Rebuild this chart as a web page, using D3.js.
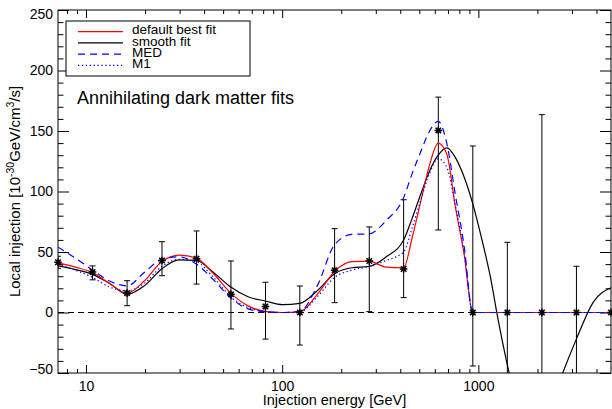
<!DOCTYPE html>
<html>
<head>
<meta charset="utf-8">
<script src="https://cdn.jsdelivr.net/npm/d3@7"></script>
<style>
  html, body { margin: 0; padding: 0; background: #fff; }
  svg { display: block; font-family: "Liberation Sans", Arial, Helvetica, sans-serif; }
</style>
</head>
<body>
<svg id="chart" width="612" height="409"></svg>
<script>
// Measured bins: injection energy (GeV), local injection and its error range
const binEnergy = [7.2, 10.8, 16.2, 24.4, 36.6, 54.8, 82.2, 123, 185, 278, 416, 625, 937, 1405, 2108, 3162, 4743];
const binValue  = [41.5, 33.5, 16, 43, 44.5, 15, 5, 0, 35, 42.5, 36, 150.5, 0, 0, 0, 0, 0];
const binUpper  = [46.5, 38.5, 26.3, 58.5, 67.4, 42.6, 25, 21.9, 69.3, 70.7, 93.2, 178, 137.6, 58, 163.5, 38.2, null];
const binLower  = [36.5, 27, 5.6, 30.4, 23.5, -13.6, -22, -26.9, 8.1, 0.7, 12.3, 68.2, -44.2, -60, -60, -60, null];

// Fit curves, sampled on a shared energy grid (GeV)
const fitEnergy = [7.2, 8.82, 10.8, 13.2, 16.2, 19.8, 24.3, 29.8, 36.5, 44.7, 54.7, 67.0, 82.0, 100.5, 123, 151,
                   185, 226, 277, 339, 416, 460, 509, 564, 624, 690, 764, 846, 936, 1036, 1146, 1268, 1404, 1553,
                   1719, 2106, 2579, 3159, 3869, 4738];
const fitDefault = [41, 37.5, 33, 24, 16, 26, 42, 47.5, 45, 32, 16, 5.5, 1, 0, 0.5, 15,
                    34, 42, 42.5, 37.5, 37, 62, 92, 122, 140, 131, 87, 48, 0, 0, 0, 0, 0, 0,
                    0, 0, 0, 0, 0, 0];
const fitSmooth  = [38.5, 35.5, 31.5, 24, 15, 22, 36, 43.5, 43, 33, 21, 13, 9.5, 6.5, 7.5, 18,
                    32, 37, 38, 46, 60, 78, 98, 117, 130, 136, 128, 112, 90, 62, 31, -8, -43, -72,
                    -92, -100, -58, -22, 9, 20.5];
const fitMED     = [54, 45, 35, 26, 22, 33, 44, 46, 40, 27, 12, 3, 0.5, 0, 1, 22,
                    56, 64.5, 65, 76, 95, 115, 133, 150, 158, 140, 97, 55, 0, 0, 0, 0, 0, 0,
                    0, 0, 0, 0, 0, 0];
const fitM1      = [40, 35, 29, 21, 18, 24, 38, 44, 42, 29, 13, 4, 1, 0, 0.5, 13,
                    29, 35, 38, 43, 50, 70, 93, 115, 127, 120, 88, 50, 0, 0, 0, 0, 0, 0,
                    0, 0, 0, 0, 0, 0];

const xMajorTicks = [10, 100, 1000];
const yMajorTicks = [-50, 0, 50, 100, 150, 200, 250];

const legendLabels = ["default best fit", "smooth fit", "MED", "M1"];

// ---- layout -------------------------------------------------------------
const plot = { left: 58, right: 611, top: 10, bottom: 373 };
const svg = d3.select("#chart");

const x = d3.scaleLog().domain([7.2, 4743]).range([plot.left, plot.right]);
const y = d3.scaleLinear().domain([-50, 250]).range([plot.bottom, plot.top]);

svg.append("defs").append("clipPath").attr("id", "plotClip")
  .append("rect")
  .attr("x", plot.left).attr("y", plot.top)
  .attr("width", plot.right - plot.left).attr("height", plot.bottom - plot.top);

// ---- axes ---------------------------------------------------------------
const xMinor = x.ticks().filter(v => !xMajorTicks.includes(v));
const yMinor = d3.range(-50, 251, 10).filter(v => !yMajorTicks.includes(v));

function styleAxis(g) {
  g.select(".domain").remove();
  g.selectAll("line").attr("stroke", "#000").attr("stroke-width", 1);
  g.selectAll("text").attr("fill", "#000").attr("font-size", 14)
    .attr("font-family", "'Liberation Sans', Arial, sans-serif");
}

// bottom
svg.append("g").attr("transform", `translate(0,${plot.bottom})`)
  .call(d3.axisBottom(x).tickValues(xMajorTicks).tickSizeInner(-8).tickSizeOuter(0)
        .tickPadding(8).tickFormat(d3.format("d")))
  .call(styleAxis);
svg.append("g").attr("transform", `translate(0,${plot.bottom})`)
  .call(d3.axisBottom(x).tickValues(xMinor).tickSizeInner(-4).tickSizeOuter(0).tickFormat(""))
  .call(styleAxis);
// top
svg.append("g").attr("transform", `translate(0,${plot.top})`)
  .call(d3.axisTop(x).tickValues(xMajorTicks).tickSizeInner(-8).tickSizeOuter(0).tickFormat(""))
  .call(styleAxis);
svg.append("g").attr("transform", `translate(0,${plot.top})`)
  .call(d3.axisTop(x).tickValues(xMinor).tickSizeInner(-4).tickSizeOuter(0).tickFormat(""))
  .call(styleAxis);
// left
const yAxisLeft = svg.append("g").attr("transform", `translate(${plot.left},0)`)
  .call(d3.axisLeft(y).tickValues(yMajorTicks).tickSizeInner(-11).tickSizeOuter(0)
        .tickPadding(5).tickFormat(d3.format("d")))
  .call(styleAxis);
// keep the end labels inside the frame height
yAxisLeft.selectAll(".tick text")
  .attr("dy", d => d === 250 ? "0.62em" : d === -50 ? "0.0em" : "0.32em");
svg.append("g").attr("transform", `translate(${plot.left},0)`)
  .call(d3.axisLeft(y).tickValues(yMinor).tickSizeInner(-5.5).tickSizeOuter(0).tickFormat(""))
  .call(styleAxis);
// right
svg.append("g").attr("transform", `translate(${plot.right},0)`)
  .call(d3.axisRight(y).tickValues(yMajorTicks).tickSizeInner(-11).tickSizeOuter(0).tickFormat(""))
  .call(styleAxis);
svg.append("g").attr("transform", `translate(${plot.right},0)`)
  .call(d3.axisRight(y).tickValues(yMinor).tickSizeInner(-5.5).tickSizeOuter(0).tickFormat(""))
  .call(styleAxis);

// frame
svg.append("rect")
  .attr("x", plot.left).attr("y", plot.top)
  .attr("width", plot.right - plot.left).attr("height", plot.bottom - plot.top)
  .attr("fill", "none").attr("stroke", "#000").attr("stroke-width", 1);

// axis titles
svg.append("text")
  .attr("x", (plot.left + plot.right) / 2).attr("y", 405)
  .attr("text-anchor", "middle").attr("font-size", 14.5)
  .text("Injection energy [GeV]");

const yTitle = svg.append("text")
  .attr("transform", `translate(20,${(plot.top + plot.bottom) / 2}) rotate(-90)`)
  .attr("text-anchor", "middle").attr("font-size", 15);
yTitle.append("tspan").text("Local injection [10");
yTitle.append("tspan").attr("font-size", 10.5).attr("dy", -6).text("-30");
yTitle.append("tspan").attr("dy", 6).text("GeV/cm");
yTitle.append("tspan").attr("font-size", 10.5).attr("dy", -6).text("3");
yTitle.append("tspan").attr("dy", 6).text("/s]");

// ---- plot content -------------------------------------------------------
const content = svg.append("g").attr("clip-path", "url(#plotClip)");

// zero reference
content.append("line")
  .attr("x1", plot.left).attr("x2", plot.right)
  .attr("y1", y(0)).attr("y2", y(0))
  .attr("stroke", "#000").attr("stroke-width", 1).attr("stroke-dasharray", "6,4");

// error bars
const bins = binEnergy.map((e, i) => ({ e, v: binValue[i], hi: binUpper[i], lo: binLower[i] }));
const capW = 3;
const bars = content.append("g").attr("stroke", "#000").attr("stroke-width", 1).attr("fill", "none");
bins.filter(d => d.hi !== null).forEach(d => {
  const cx = x(d.e);
  bars.append("line").attr("x1", cx).attr("x2", cx).attr("y1", y(d.lo)).attr("y2", y(d.hi));
  bars.append("line").attr("x1", cx - capW).attr("x2", cx + capW).attr("y1", y(d.hi)).attr("y2", y(d.hi));
  bars.append("line").attr("x1", cx - capW).attr("x2", cx + capW).attr("y1", y(d.lo)).attr("y2", y(d.lo));
});

// fit curves
const fits = [
  { values: fitSmooth,  color: "#000000", dash: null },
  { values: fitDefault, color: "#ff0000", dash: null },
  { values: fitMED,     color: "#0000ff", dash: "7,5" },
  { values: fitM1,      color: "#0000ff", dash: "1.3,2.6" }
];
const line = d3.line()
  .x(d => x(d[0])).y(d => y(d[1]))
  .curve(d3.curveMonotoneX);
fits.forEach(f => {
  content.append("path")
    .datum(fitEnergy.map((e, i) => [e, f.values[i]]))
    .attr("d", line)
    .attr("fill", "none")
    .attr("stroke", f.color)
    .attr("stroke-width", 1.2)
    .attr("stroke-dasharray", f.dash);
});

// data markers (asterisks)
const r = 3.8, rd = r * 0.72;
const star = `M${-r},0L${r},0M0,${-r}L0,${r}M${-rd},${-rd}L${rd},${rd}M${-rd},${rd}L${rd},${-rd}`;
svg.append("g").selectAll("path").data(bins).join("path")
  .attr("transform", d => `translate(${x(d.e)},${y(d.v)})`)
  .attr("d", star)
  .attr("fill", "none").attr("stroke", "#000").attr("stroke-width", 1.5);

// ---- title and legend ---------------------------------------------------
svg.append("text")
  .attr("x", 77).attr("y", 104)
  .attr("font-size", 18)
  .text("Annihilating dark matter fits");

const legend = svg.append("g");
legend.append("rect")
  .attr("x", 66).attr("y", 21).attr("width", 184).attr("height", 55)
  .attr("fill", "#fff").attr("stroke", "#000").attr("stroke-width", 1);
const legendRows = [31.7, 42.9, 54.1, 65.3];
const legendFits = [fits[1], fits[0], fits[2], fits[3]];
legendLabels.forEach((lab, i) => {
  const f = legendFits[i];
  legend.append("line")
    .attr("x1", 78).attr("x2", 123)
    .attr("y1", legendRows[i]).attr("y2", legendRows[i])
    .attr("stroke", f.color).attr("stroke-width", 1.2)
    .attr("stroke-dasharray", f.dash);
  legend.append("text")
    .attr("x", 132).attr("y", legendRows[i] + 2.6)
    .attr("font-size", 13.5)
    .text(lab);
});
</script>
</body>
</html>
